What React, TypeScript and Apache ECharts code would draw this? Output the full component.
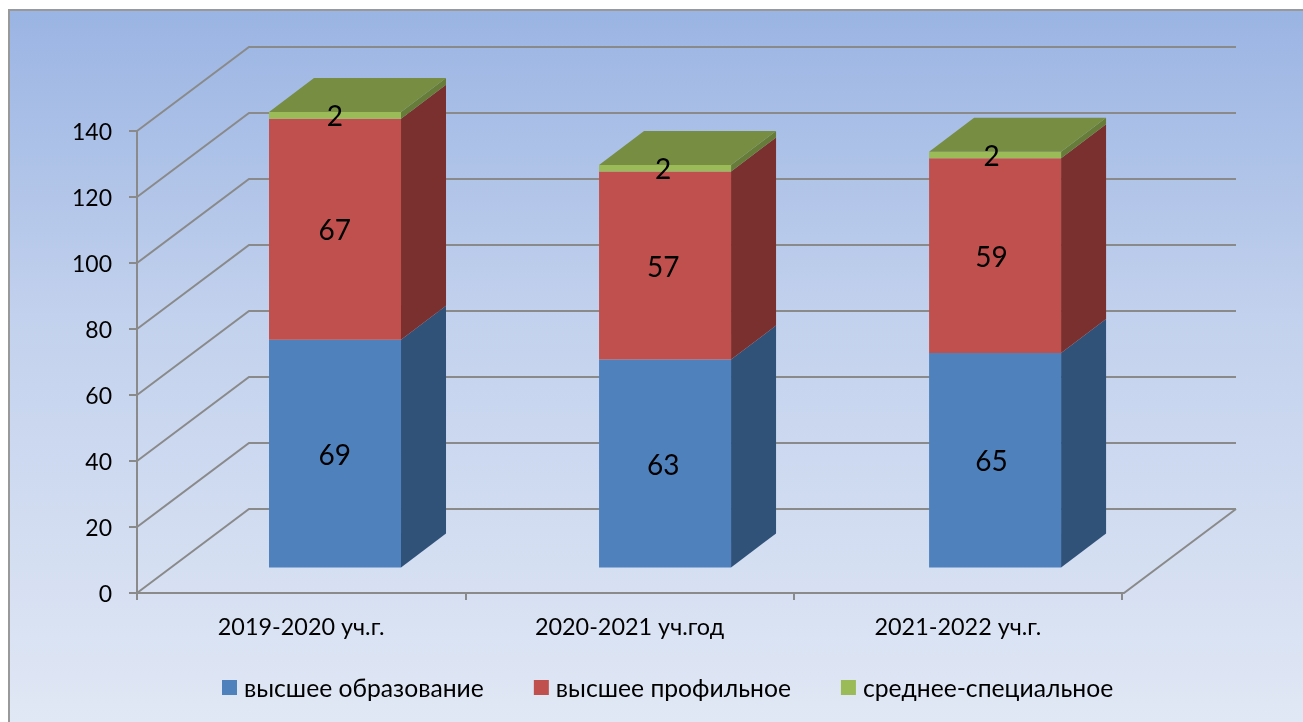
import React, { useEffect, useRef } from "react";
import * as echarts from "echarts";

const categories = ["2019-2020 уч.г.", "2020-2021 уч.год", "2021-2022 уч.г."];
const higherEducation = [69, 63, 65];
const higherProfile = [67, 57, 59];
const secondary = [2, 2, 2];
const seriesNames = ["высшее образование", "высшее профильное", "среднее-специальное"];
const yTicks = [0, 20, 40, 60, 80, 100, 120, 140];

const FONT = "Lato, 'Open Sans', sans-serif";
const GRID_COLOR = "#8a8a8a";
const FRONT_COLORS = ["#4f81bd", "#c0504d", "#9bbb59"];
const SIDE_COLORS = ["#305279", "#7a302e", "#667c38"];
const TOP_COLOR = "#768d42";

const GRID = { left: 137, right: 1303 - 1122, top: 131, bottom: 722 - 593 };
const WALL_DX = 112;
const WALL_DY = -84;
const FLOOR_RIGHT = 1124;
const BAR_WIDTH = 132;
const BAR_DX = 45;
const BAR_DY = -34;
const BAR_SHIFT_X = 33;
const BAR_SHIFT_Y = -25.5;
const LABEL_SHIFT_X = 33.7;
const X_STRETCH = 330 / 328.3;

function wallRender(params: any, api: any) {
  const cs = params.coordSys;
  const y = api.coord([0, api.value(1)])[1];
  const left = cs.x;
  const right = cs.x + cs.width;
  const children: any[] = [
    {
      type: "polyline",
      shape: {
        points: [
          [left, y],
          [left + WALL_DX, y + WALL_DY],
          [FLOOR_RIGHT + WALL_DX, y + WALL_DY],
        ],
      },
      style: { fill: "none", stroke: GRID_COLOR, lineWidth: 2 },
    },
  ];
  if (api.value(1) === 0) {
    children.push({
      type: "polyline",
      shape: {
        points: [
          [right, y],
          [FLOOR_RIGHT, y],
          [FLOOR_RIGHT + WALL_DX, y + WALL_DY],
        ],
      },
      style: { fill: "none", stroke: GRID_COLOR, lineWidth: 2 },
    });
  }
  return { type: "group", children };
}

function stackRender(stackIndex: number) {
  return (params: any, api: any) => {
    const cs = params.coordSys;
    const cat = api.value(0);
    const base = api.value(1);
    const top = api.value(2);
    const catX = api.coord([cat, 0])[0];
    const center = cs.x + (catX - cs.x) * X_STRETCH + BAR_SHIFT_X;
    const x0 = center - BAR_WIDTH / 2;
    const x1 = center + BAR_WIDTH / 2;
    const yB = api.coord([cat, base])[1] + BAR_SHIFT_Y;
    const yT = api.coord([cat, top])[1] + BAR_SHIFT_Y;
    const children: any[] = [
      {
        type: "polygon",
        shape: { points: [[x1, yB], [x1 + BAR_DX, yB + BAR_DY], [x1 + BAR_DX, yT + BAR_DY], [x1, yT]] },
        style: { fill: SIDE_COLORS[stackIndex] },
      },
      {
        type: "rect",
        shape: { x: x0, y: yT, width: BAR_WIDTH, height: yB - yT },
        style: { fill: FRONT_COLORS[stackIndex] },
      },
    ];
    if (stackIndex === 2) {
      children.push({
        type: "polygon",
        shape: { points: [[x0, yT], [x0 + BAR_DX, yT + BAR_DY], [x1 + BAR_DX, yT + BAR_DY], [x1, yT]] },
        style: { fill: TOP_COLOR },
      });
    }
    children.push({
      type: "text",
      z2: 10,
      style: {
        x: catX + LABEL_SHIFT_X,
        y: (yB + yT) / 2,
        text: String(top - base),
        fill: "#000",
        font: `28px ${FONT}`,
        align: "center",
        verticalAlign: "middle",
      },
    });
    return { type: "group", children };
  };
}

function stackData(values: number[], below: number[]) {
  return values.map((v, i) => [i, below[i], below[i] + v]);
}

export default function App() {
  const ref = useRef<HTMLDivElement>(null);
  useEffect(() => {
    document.body.style.margin = "0";
    const chart = echarts.init(ref.current!, undefined, { renderer: "svg" });
    const zeros = categories.map(() => 0);
    const firstTop = higherEducation;
    const secondTop = higherEducation.map((v, i) => v + higherProfile[i]);
    const layers = [
      stackData(higherEducation, zeros),
      stackData(higherProfile, firstTop),
      stackData(secondary, secondTop),
    ];
    chart.setOption({
      animation: false,
      graphic: [
        {
          type: "rect",
          z: -10,
          silent: true,
          shape: { x: 9, y: 10, width: 1400, height: 800 },
          style: {
            stroke: "#999999",
            lineWidth: 2,
            fill: new echarts.graphic.LinearGradient(0, 0, 0, 1, [
              { offset: 0, color: "#9ab4e3" },
              { offset: 0.38, color: "#c2d1ed" },
              { offset: 0.9, color: "#e1e8f5" },
              { offset: 1, color: "#e1e8f5" },
            ]),
          },
        },
      ],
      grid: { ...GRID, containLabel: false },
      legend: {
        left: 217,
        top: 670,
        icon: "rect",
        itemWidth: 15,
        itemHeight: 15,
        itemGap: 50,
        selectedMode: false,
        data: seriesNames,
        textStyle: { fontFamily: FONT, fontSize: 24.7, color: "#000", padding: [0, 0, 0, 2] },
      },
      xAxis: {
        type: "category",
        data: categories,
        boundaryGap: true,
        axisLine: { show: true, lineStyle: { color: GRID_COLOR, width: 2 } },
        axisTick: { show: true, length: 7, alignWithLabel: false, lineStyle: { color: GRID_COLOR, width: 2 } },
        axisLabel: { color: "#000", fontFamily: FONT, fontSize: 23.4, margin: 21 },
      },
      yAxis: {
        type: "value",
        min: 0,
        max: 140,
        interval: 20,
        splitLine: { show: false },
        axisLine: { show: true, lineStyle: { color: GRID_COLOR, width: 2 } },
        axisTick: { show: true, length: 8, lineStyle: { color: GRID_COLOR, width: 2 } },
        axisLabel: { color: "#000", fontFamily: FONT, fontSize: 23, margin: 25 },
      },
      series: [
        {
          type: "custom",
          name: "walls",
          silent: true,
          z: 1,
          renderItem: wallRender,
          data: yTicks.map((t) => [0, t]),
          encode: { x: 0, y: 1 },
        },
        ...seriesNames.map((name, i) => ({
          type: "custom",
          name,
          z: 2 + i,
          itemStyle: { color: FRONT_COLORS[i] },
          renderItem: stackRender(i),
          data: layers[i],
          encode: { x: 0, y: [1, 2] },
        })),
      ],
    });
    return () => chart.dispose();
  }, []);
  return <div ref={ref} style={{ position: "fixed", left: 0, top: 0, width: 1303, height: 722 }} />;
}
